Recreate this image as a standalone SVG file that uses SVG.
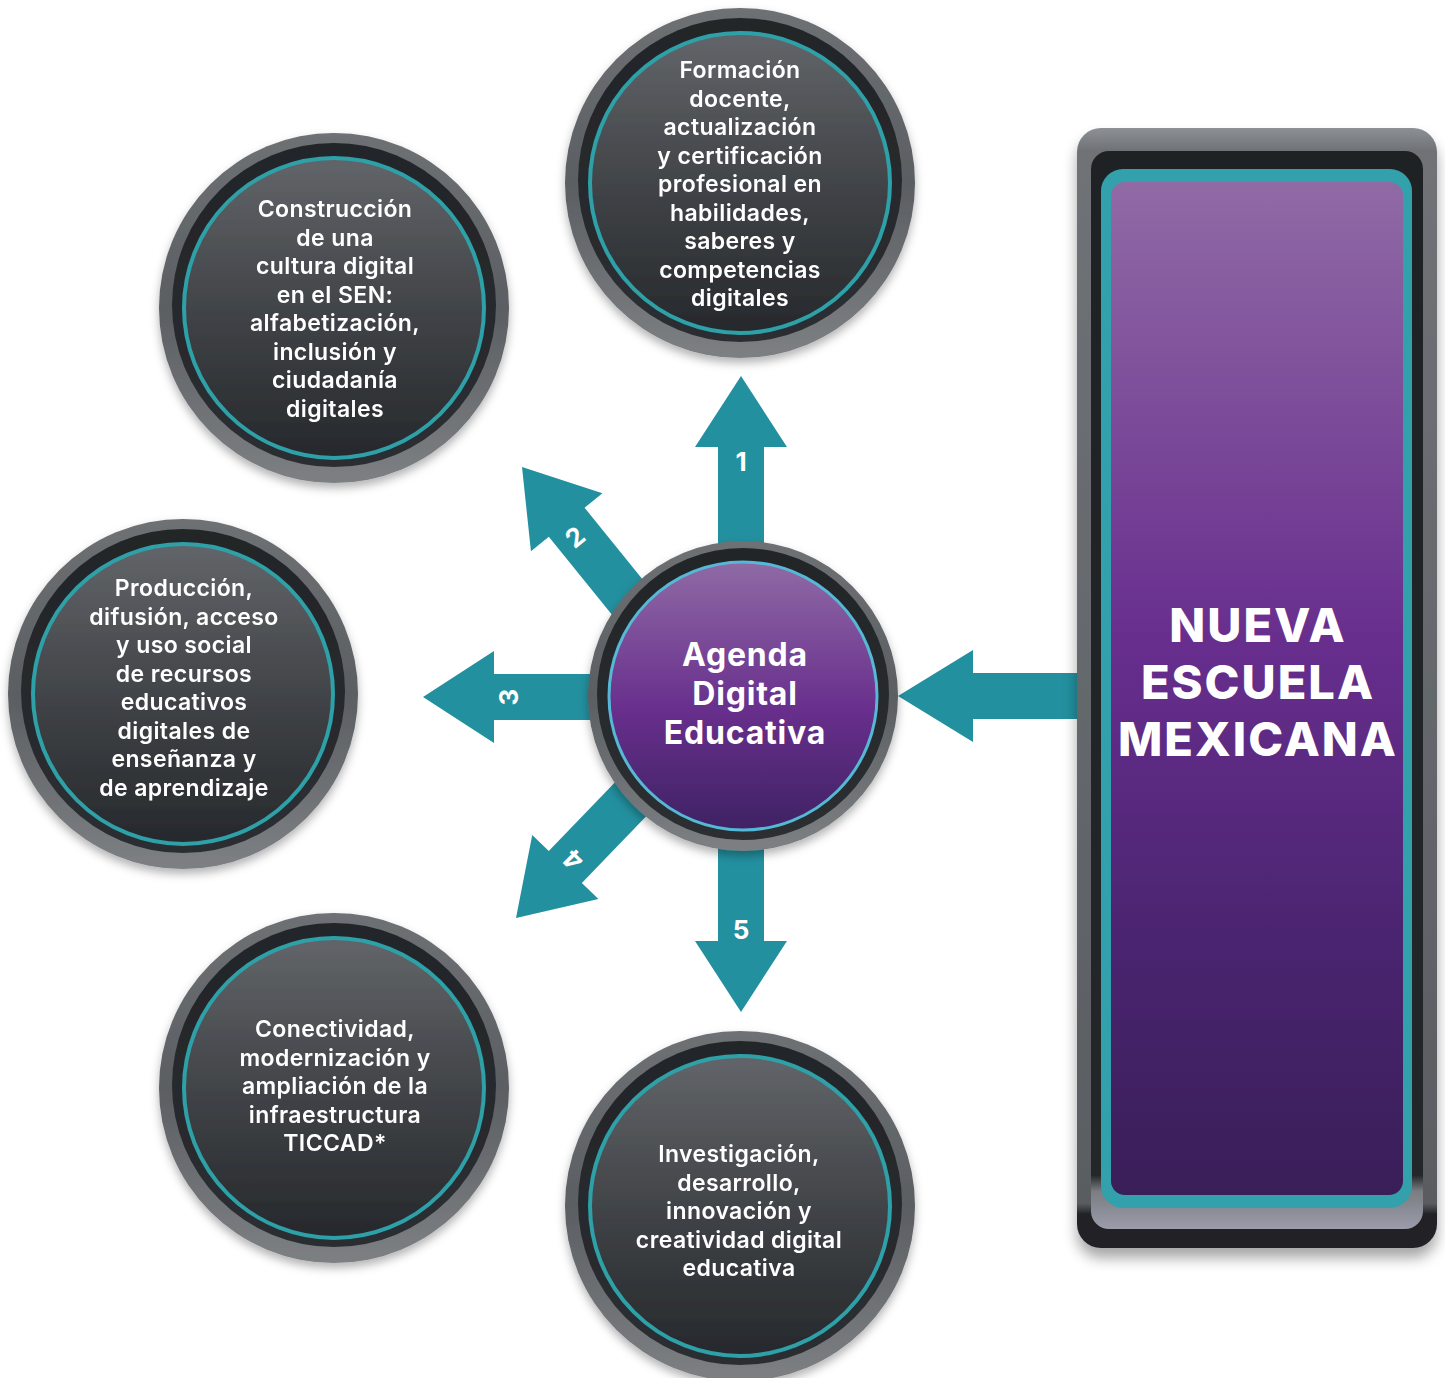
<svg xmlns="http://www.w3.org/2000/svg" width="1445" height="1378" viewBox="0 0 1445 1378">
<style>
.t{font-family:Inter,"Open Sans","Liberation Sans",sans-serif;font-weight:600;fill:#ffffff;text-anchor:middle}
.ct{font-size:23px;letter-spacing:0.4px}
.hd{font-size:32px;font-weight:700;letter-spacing:0.8px}
.pn{font-size:47px;font-weight:800;letter-spacing:2px}
.num{font-family:Inter,"Open Sans","Liberation Sans",sans-serif;font-weight:700;font-size:26px;fill:#ffffff;text-anchor:middle;dominant-baseline:central}
.arr{fill:#23909f}
</style>
<defs>
<linearGradient id="gRing" x1="0" y1="0" x2="0" y2="1"><stop offset="0" stop-color="#6e7174"/><stop offset="0.5" stop-color="#5b5e62"/><stop offset="1" stop-color="#7d8083"/></linearGradient>
<linearGradient id="gDark" x1="0" y1="0" x2="0" y2="1"><stop offset="0" stop-color="#222528"/><stop offset="1" stop-color="#2c2f32"/></linearGradient>
<linearGradient id="gIn" x1="0" y1="0" x2="0" y2="1"><stop offset="0" stop-color="#626569"/><stop offset="0.55" stop-color="#3e4145"/><stop offset="1" stop-color="#26292c"/></linearGradient>
<linearGradient id="gPurp" x1="0" y1="0" x2="0" y2="1"><stop offset="0" stop-color="#8f6aa5"/><stop offset="0.55" stop-color="#682f8c"/><stop offset="1" stop-color="#3f2264"/></linearGradient>
<linearGradient id="gPanel" x1="0" y1="0" x2="0" y2="1"><stop offset="0" stop-color="#906aa5"/><stop offset="0.45" stop-color="#682e8e"/><stop offset="0.75" stop-color="#4a2470"/><stop offset="1" stop-color="#391e58"/></linearGradient>
<linearGradient id="gFrame" x1="0" y1="0" x2="0" y2="1"><stop offset="0" stop-color="#8d9095"/><stop offset="0.02" stop-color="#6f7276"/><stop offset="0.96" stop-color="#5a5d61"/><stop offset="0.97" stop-color="#202326"/><stop offset="1" stop-color="#202326"/></linearGradient>
<linearGradient id="gFrameIn" x1="0" y1="0" x2="0" y2="1"><stop offset="0" stop-color="#1f2225"/><stop offset="0.95" stop-color="#24272a"/><stop offset="0.965" stop-color="#7b7d82"/><stop offset="1" stop-color="#9a9cab"/></linearGradient>
<filter id="sh" x="-20%" y="-20%" width="140%" height="140%"><feDropShadow dx="0" dy="5" stdDeviation="5" flood-color="#000" flood-opacity="0.3"/></filter>
<filter id="psh" x="-10%" y="-10%" width="120%" height="120%"><feDropShadow dx="0" dy="10" stdDeviation="7" flood-color="#000" flood-opacity="0.35"/></filter>
<g id="bigc">
<circle r="175" fill="url(#gRing)"/>
<circle cy="-3" r="162" fill="url(#gDark)"/>
<circle r="150" fill="url(#gIn)" stroke="#2ea1a8" stroke-width="4"/>
</g>
</defs>

<g id="connectors">
<polygon class="arr" transform="translate(741,376)" points="0,0 46,71 23,71 23,190 -23,190 -23,71 -46,71"/>
<polygon class="arr" transform="translate(522,467) rotate(-39)" points="0,0 46,71 23,71 23,190 -23,190 -23,71 -46,71"/>
<polygon class="arr" transform="translate(423,697) rotate(-90)" points="0,0 46,71 23,71 23,190 -23,190 -23,71 -46,71"/>
<polygon class="arr" transform="translate(516,918) rotate(-136)" points="0,0 46,71 23,71 23,190 -23,190 -23,71 -46,71"/>
<polygon class="arr" transform="translate(741,1012) rotate(180)" points="0,0 46,71 23,71 23,190 -23,190 -23,71 -46,71"/>
<polygon class="arr" transform="translate(898,696) rotate(-90)" points="0,0 46,75 23,75 23,190 -23,190 -23,75 -46,75"/>
<text class="num" x="741" y="461">1</text>
<text class="num" transform="translate(575,537) rotate(-39)">2</text>
<text class="num" transform="translate(508,697) rotate(-90)">3</text>
<text class="num" transform="translate(573,860) rotate(-136)">4</text>
<text class="num" x="741" y="929">5</text>
</g>

<g id="center">
<circle cx="743" cy="696" r="155" fill="url(#gRing)" filter="url(#sh)"/>
<circle cx="743" cy="694" r="146" fill="url(#gDark)"/>
<circle cx="743" cy="696" r="134" fill="url(#gPurp)" stroke="#55b8d6" stroke-width="3"/>
<text class="t hd" x="745" y="666">Agenda</text>
<text class="t hd" x="745" y="705">Digital</text>
<text class="t hd" x="745" y="744">Educativa</text>
</g>

<g id="n1" filter="url(#sh)">
<use href="#bigc" x="740" y="183"/>
<text class="t ct" x="740" y="78">Formación</text>
<text class="t ct" x="740" y="106.5">docente,</text>
<text class="t ct" x="740" y="135">actualización</text>
<text class="t ct" x="740" y="163.5">y certificación</text>
<text class="t ct" x="740" y="192">profesional en</text>
<text class="t ct" x="740" y="220.5">habilidades,</text>
<text class="t ct" x="740" y="249">saberes y</text>
<text class="t ct" x="740" y="277.5">competencias</text>
<text class="t ct" x="740" y="306">digitales</text>
</g>

<g id="n2" filter="url(#sh)">
<use href="#bigc" x="334" y="308"/>
<text class="t ct" x="335" y="217">Construcción</text>
<text class="t ct" x="335" y="245.5">de una</text>
<text class="t ct" x="335" y="274">cultura digital</text>
<text class="t ct" x="335" y="302.5">en el SEN:</text>
<text class="t ct" x="335" y="331">alfabetización,</text>
<text class="t ct" x="335" y="359.5">inclusión y</text>
<text class="t ct" x="335" y="388">ciudadanía</text>
<text class="t ct" x="335" y="416.5">digitales</text>
</g>

<g id="n3" filter="url(#sh)">
<use href="#bigc" x="183" y="694"/>
<text class="t ct" x="184" y="596">Producción,</text>
<text class="t ct" x="184" y="624.5">difusión, acceso</text>
<text class="t ct" x="184" y="653">y uso social</text>
<text class="t ct" x="184" y="681.5">de recursos</text>
<text class="t ct" x="184" y="710">educativos</text>
<text class="t ct" x="184" y="738.5">digitales de</text>
<text class="t ct" x="184" y="767">enseñanza y</text>
<text class="t ct" x="184" y="795.5">de aprendizaje</text>
</g>

<g id="n4" filter="url(#sh)">
<use href="#bigc" x="334" y="1088"/>
<text class="t ct" x="335" y="1037">Conectividad,</text>
<text class="t ct" x="335" y="1065.5">modernización y</text>
<text class="t ct" x="335" y="1094">ampliación de la</text>
<text class="t ct" x="335" y="1122.5">infraestructura</text>
<text class="t ct" x="335" y="1151">TICCAD*</text>
</g>

<g id="n5" filter="url(#sh)">
<use href="#bigc" x="740" y="1206"/>
<text class="t ct" x="739" y="1162">Investigación,</text>
<text class="t ct" x="739" y="1190.5">desarrollo,</text>
<text class="t ct" x="739" y="1219">innovación y</text>
<text class="t ct" x="739" y="1247.5">creatividad digital</text>
<text class="t ct" x="739" y="1276">educativa</text>
</g>

<g id="panel">
<rect x="1077" y="128" width="360" height="1120" rx="24" fill="url(#gFrame)" filter="url(#psh)"/>
<rect x="1091" y="151" width="332" height="1078" rx="18" fill="url(#gFrameIn)"/>
<rect x="1101" y="169" width="311" height="1039" rx="22" fill="#33a1ab"/>
<rect x="1111" y="182" width="292" height="1013" rx="14" fill="url(#gPanel)"/>
<text class="t pn" x="1258" y="642">NUEVA</text>
<text class="t pn" x="1258" y="699">ESCUELA</text>
<text class="t pn" x="1258" y="756">MEXICANA</text>
</g>
</svg>
